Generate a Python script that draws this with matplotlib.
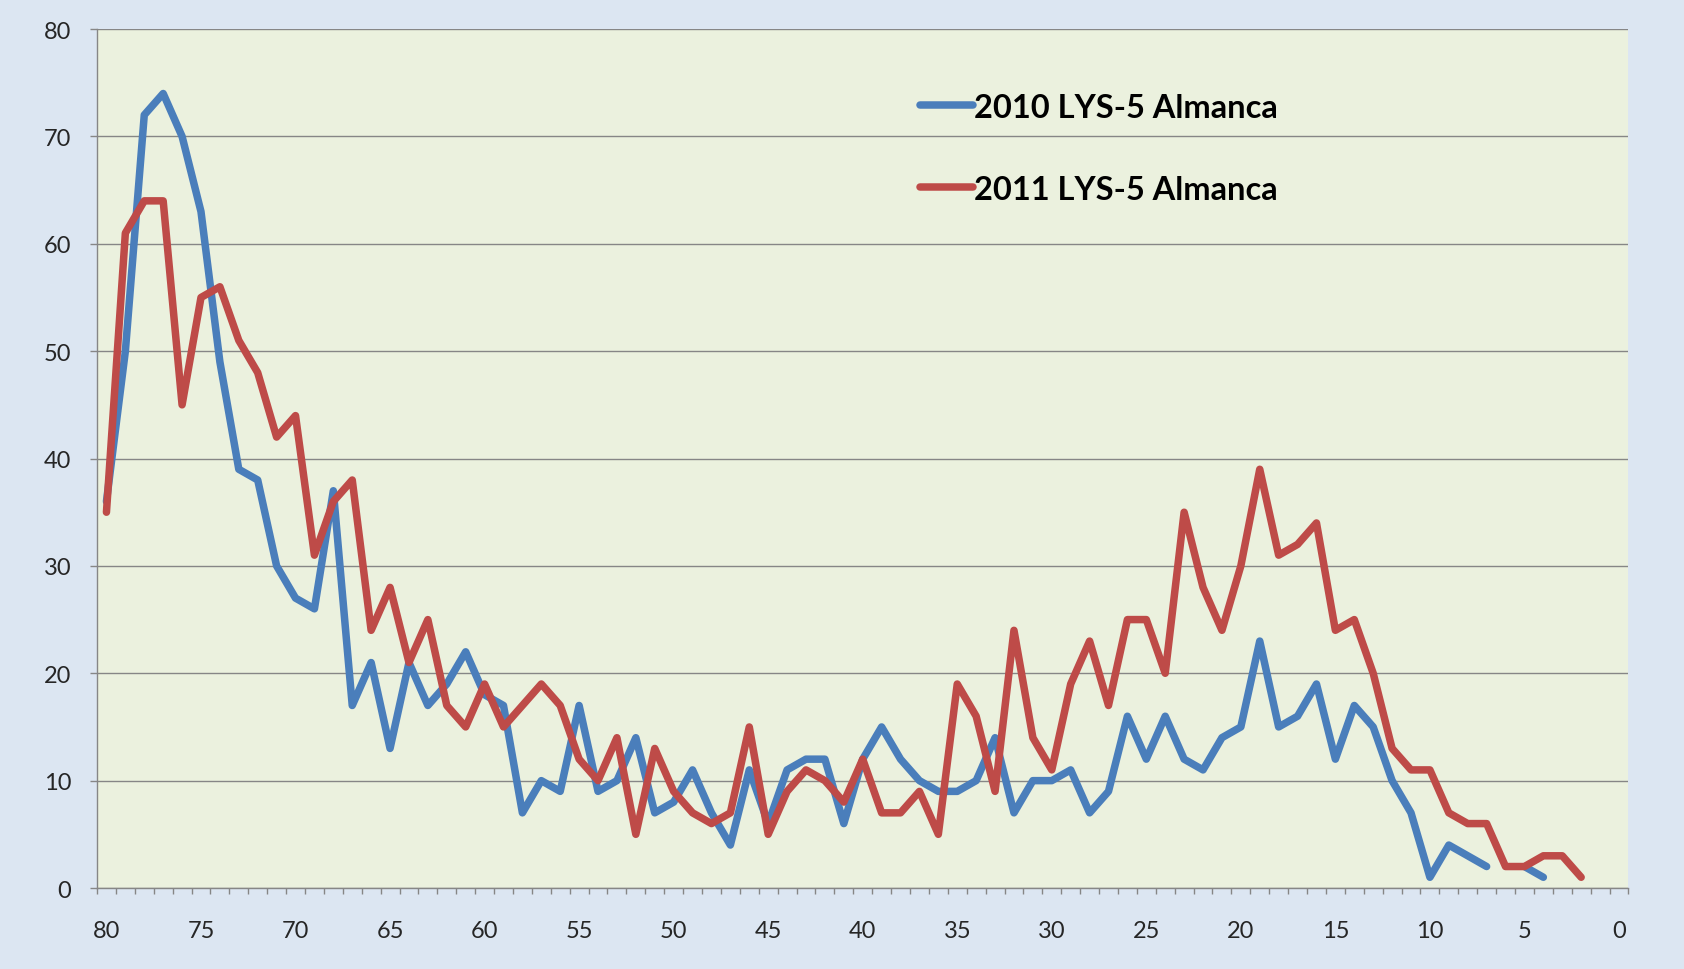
import matplotlib
matplotlib.use("Agg")
import matplotlib.pyplot as plt
import numpy as np

# ---- data ----
ages_2010 = list(range(80, 3, -1))          # 80 .. 4
vals_2010 = [36, 50, 72, 74, 70, 63, 49, 39, 38, 30,
             27, 26, 37, 17, 21, 13, 21, 17, 19, 22,
             18, 17, 7, 10, 9, 17, 9, 10, 14, 7,
             8, 11, 7, 4, 11, 6, 11, 12, 12, 6,
             12, 15, 12, 10, 9, 9, 10, 14, 7, 10,
             10, 11, 7, 9, 16, 12, 16, 12, 11, 14,
             15, 23, 15, 16, 19, 12, 17, 15, 10, 7,
             1, 4, 3, 2, None, 2, 1]

ages_2011 = list(range(80, 1, -1))          # 80 .. 2
vals_2011 = [35, 61, 64, 64, 45, 55, 56, 51, 48, 42,
             44, 31, 36, 38, 24, 28, 21, 25, 17, 15,
             19, 15, 17, 19, 17, 12, 10, 14, 5, 13,
             9, 7, 6, 7, 15, 5, 9, 11, 10, 8,
             12, 7, 7, 9, 5, 19, 16, 9, 24, 14,
             11, 19, 23, 17, 25, 25, 20, 35, 28, 24,
             30, 39, 31, 32, 34, 24, 25, 20, 13, 11,
             11, 7, 6, 6, 2, 2, 3, 3, 1]

label_2010 = "2010 LYS-5 Almanca"
label_2011 = "2011 LYS-5 Almanca"
x_labels = list(range(80, -1, -5))
y_ticks = list(range(0, 81, 10))

# ---- style ----
fig = plt.figure(figsize=(16.84, 9.70), dpi=100, facecolor="#DCE6F2")
ax = fig.add_axes([0.0576, 0.0835, 0.9094, 0.8855])
ax.set_facecolor("#EBF1DE")

y10 = np.array([np.nan if v is None else v for v in vals_2010], dtype=float)
y11 = np.array(vals_2011, dtype=float)

ax.plot(ages_2010, y10, color="#4A7EBB", lw=5.4, solid_joinstyle="round",
        solid_capstyle="round", label=label_2010, zorder=3)
ax.plot(ages_2011, y11, color="#BE4B48", lw=5.4, solid_joinstyle="round",
        solid_capstyle="round", label=label_2011, zorder=3)

ax.set_xlim(80.5, -0.5)
ax.set_ylim(0, 80)

ax.set_yticks(y_ticks)
ax.set_xticks(x_labels)
ax.set_xticklabels([str(v) for v in x_labels])
ax.set_xticks(np.arange(80.5, -1.0, -1.0), minor=True)

ax.grid(axis="y", color="#868686", lw=1.0, zorder=1)
ax.set_axisbelow(True)

for s in ["top", "right"]:
    ax.spines[s].set_visible(False)
for s in ["left", "bottom"]:
    ax.spines[s].set_color("#868686")
    ax.spines[s].set_linewidth(1.0)

ax.tick_params(axis="x", which="major", length=0, pad=23, labelcolor="#262626")
ax.tick_params(axis="x", which="minor", length=4.5, width=1.0, color="#868686", direction="out")
ax.tick_params(axis="y", which="major", length=5, width=1.0, color="#868686", pad=13.5,
               labelcolor="#262626")
for lab in ax.get_xticklabels() + ax.get_yticklabels():
    lab.set_fontfamily("Lato")
    lab.set_fontsize(17)

leg = ax.legend(loc="upper left", bbox_to_anchor=(0.527, 0.945), frameon=False,
                handlelength=1.6, handletextpad=0.05, labelspacing=1.62, borderpad=0,
                prop=dict(family="Lato", weight="bold", size=23.5))
for h in leg.get_lines():
    h.set_linewidth(5.4)
    h.set_solid_capstyle("round")

fig.savefig("out.png", dpi=100, facecolor=fig.get_facecolor())
